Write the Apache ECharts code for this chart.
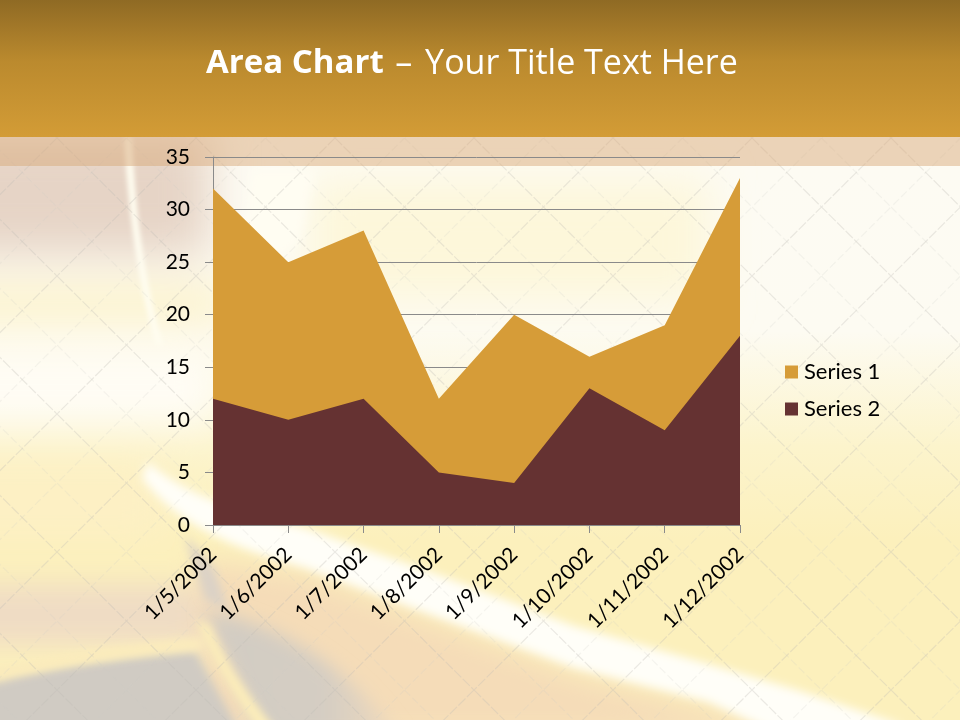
<!DOCTYPE html>
<html><head><meta charset="utf-8">
<style>
html,body{margin:0;padding:0;width:960px;height:720px;overflow:hidden;background:#fdfbf2}
#bg{position:absolute;left:0;top:0}
#main{position:absolute;left:0;top:0;width:960px;height:720px}
</style>
<script src="https://cdn.jsdelivr.net/npm/echarts@6/dist/echarts.min.js"></script>
</head><body>
<svg id="bg" width="960" height="720" viewBox="0 0 960 720" xmlns="http://www.w3.org/2000/svg">
<defs>
<linearGradient id="base" x1="0" y1="0" x2="0" y2="1">
<stop offset="0" stop-color="#fdfbf4"/><stop offset="0.46" stop-color="#fdfbf2"/><stop offset="0.62" stop-color="#fcf4cc"/><stop offset="0.75" stop-color="#fcf0bc"/><stop offset="1" stop-color="#fcf0bc"/>
</linearGradient>
<linearGradient id="head" x1="0" y1="0" x2="0" y2="1">
<stop offset="0" stop-color="#8f6a24"/><stop offset="0.45" stop-color="#bb8a2e"/><stop offset="1" stop-color="#d39c36"/>
</linearGradient>
<linearGradient id="gray" x1="0" y1="0" x2="1" y2="0">
<stop offset="0" stop-color="#d2ccc3"/><stop offset="0.6" stop-color="#d4cdc3"/><stop offset="1" stop-color="#efd9bc"/>
</linearGradient>
<filter id="b24"><feGaussianBlur stdDeviation="22"/></filter>
<filter id="b14"><feGaussianBlur stdDeviation="14"/></filter>
<filter id="b9"><feGaussianBlur stdDeviation="9"/></filter>
<filter id="b6"><feGaussianBlur stdDeviation="5"/></filter>
<filter id="b4"><feGaussianBlur stdDeviation="4"/></filter>
<filter id="b3"><feGaussianBlur stdDeviation="2.5"/></filter>
<pattern id="lat" width="139" height="138" patternUnits="userSpaceOnUse" x="57" y="0">
<path d="M0 0L139 138M139 0L0 138" fill="none" stroke="#bdbbb5" stroke-opacity="0.3" stroke-width="1.2" stroke-dasharray="10 2"/>
<path d="M69.5 0L139 69L69.5 138L0 69Z" fill="none" stroke="#c8c6c0" stroke-opacity="0.18" stroke-width="1.2" stroke-dasharray="8 3"/>
</pattern>
</defs>
<rect width="960" height="720" fill="url(#base)"/>
<g filter="url(#b24)">
<rect x="-60" y="130" width="270" height="125" fill="#e6d4c6"/>
<rect x="-60" y="285" width="290" height="38" fill="#fcf2c8"/>
<rect x="310" y="180" width="400" height="120" fill="#fdf7da"/>
<rect x="-60" y="350" width="280" height="75" fill="#fffdf6"/>
<rect x="-60" y="460" width="230" height="80" fill="#fdf0c4"/>
</g>
<g filter="url(#b14)">
<rect x="-40" y="585" width="250" height="60" fill="#efdcc4"/>
<path d="M200 560L305 575L440 625L575 675L710 710L800 735H200Z" fill="#f5dcb8"/>
</g>
<g filter="url(#b9)">
<path d="M205 610C290 625 360 680 400 740H258C245 690 215 650 205 610Z" fill="url(#gray)"/>
</g>
<g filter="url(#b6)">
<path d="M-20 678C60 665 130 655 195 650L245 740H-20Z" fill="#d0cbc3"/>
<path d="M185 535L215 570L228 610L205 600Z" fill="#dbd2c6"/>
</g>
<g filter="url(#b4)">
<path d="M196 620L210 625C226 665 248 695 276 730L258 730C234 695 212 660 196 620Z" fill="#fdeeba"/>
<path d="M-10 670C60 654 130 644 200 638L203 650C130 655 60 665 -10 684Z" fill="#fcecbc"/>
</g>
<g filter="url(#b6)">
<path d="M148 462C180 490 215 505 305 528L439 575L574 626L708 664L797 690L905 726L780 735L708 702L574 668L439 618L305 568C230 548 175 522 142 478Z" fill="#fffef8"/>
<path d="M252 170C245 210 240 240 252 285L300 240L315 170Z" fill="#fffdf2"/>
</g>
<g filter="url(#b3)">
<path d="M124 137L132 137C135 210 145 285 163 345L156 345C138 285 128 210 124 137Z" fill="#fffdf0"/>
</g>
<rect width="960" height="720" fill="url(#lat)"/>
<rect x="0" y="137" width="960" height="29" fill="#d8a878" fill-opacity="0.48"/>
<rect x="0" y="0" width="960" height="137" fill="url(#head)"/>
</svg>
<div id="main"></div>
<script>
var categories = ['1/5/2002','1/6/2002','1/7/2002','1/8/2002','1/9/2002','1/10/2002','1/11/2002','1/12/2002'];
var series1 = [32,25,28,12,20,16,19,33];
var series2 = [12,10,12,5,4,13,9,18];
var yMax = 35, yStep = 5;
var font = 'Lato, Carlito, "Open Sans", sans-serif';
var chart = echarts.init(document.getElementById('main'), null, {renderer:'canvas'});
chart.setOption({
  animation:false,
  backgroundColor:'transparent',
  title:{
    text:'{b|Area Chart }{d|– }{n|Your Title Text Here}',
    left:206, top:47,
    textStyle:{rich:{
      b:{fontFamily:'"Open Sans"',fontWeight:'bold',fontSize:33,color:'#fff',padding:[0,3,0,0]},
      d:{fontFamily:'"Open Sans"',fontWeight:'normal',fontSize:34,color:'#fff',padding:[0,4,0,0]},
      n:{fontFamily:'"Open Sans"',fontWeight:'normal',fontSize:34,color:'#fff'}
    }},
    padding:0
  },
  legend:{
    orient:'vertical', left:780, top:356, itemWidth:13, itemHeight:13, itemGap:15,
    icon:'rect',
    textStyle:{fontFamily:font,fontSize:22,color:'#000',padding:[0,0,0,1]},
    data:['Series 1','Series 2']
  },
  grid:{left:213,right:220,top:157,bottom:195,containLabel:false},
  xAxis:{
    type:'category', data:categories, boundaryGap:false,
    axisLine:{show:true,lineStyle:{color:'#8a8a8a',width:1}},
    axisTick:{show:true,alignWithLabel:true,length:8,lineStyle:{color:'#8a8a8a'}},
    axisLabel:{rotate:45,interval:0,margin:26,fontFamily:font,fontSize:21,color:'#000'},
    splitLine:{show:false}
  },
  yAxis:{
    type:'value', min:0, max:yMax, interval:yStep,
    axisLine:{show:true,lineStyle:{color:'#8a8a8a',width:1}},
    axisTick:{show:true,length:8,lineStyle:{color:'#8a8a8a'}},
    axisLabel:{margin:23,fontFamily:font,fontSize:21,color:'#000'},
    splitLine:{show:true,lineStyle:{color:'#8a8a8a',width:1}}
  },
  series:[
    {name:'Series 1',type:'line',data:series1,symbol:'none',lineStyle:{width:0},itemStyle:{color:'#D69C38'},areaStyle:{color:'#D69C38',opacity:1},z:2},
    {name:'Series 2',type:'line',data:series2,symbol:'none',lineStyle:{width:0},itemStyle:{color:'#653232'},areaStyle:{color:'#653232',opacity:1},z:3}
  ]
});
</script>
</body></html>
